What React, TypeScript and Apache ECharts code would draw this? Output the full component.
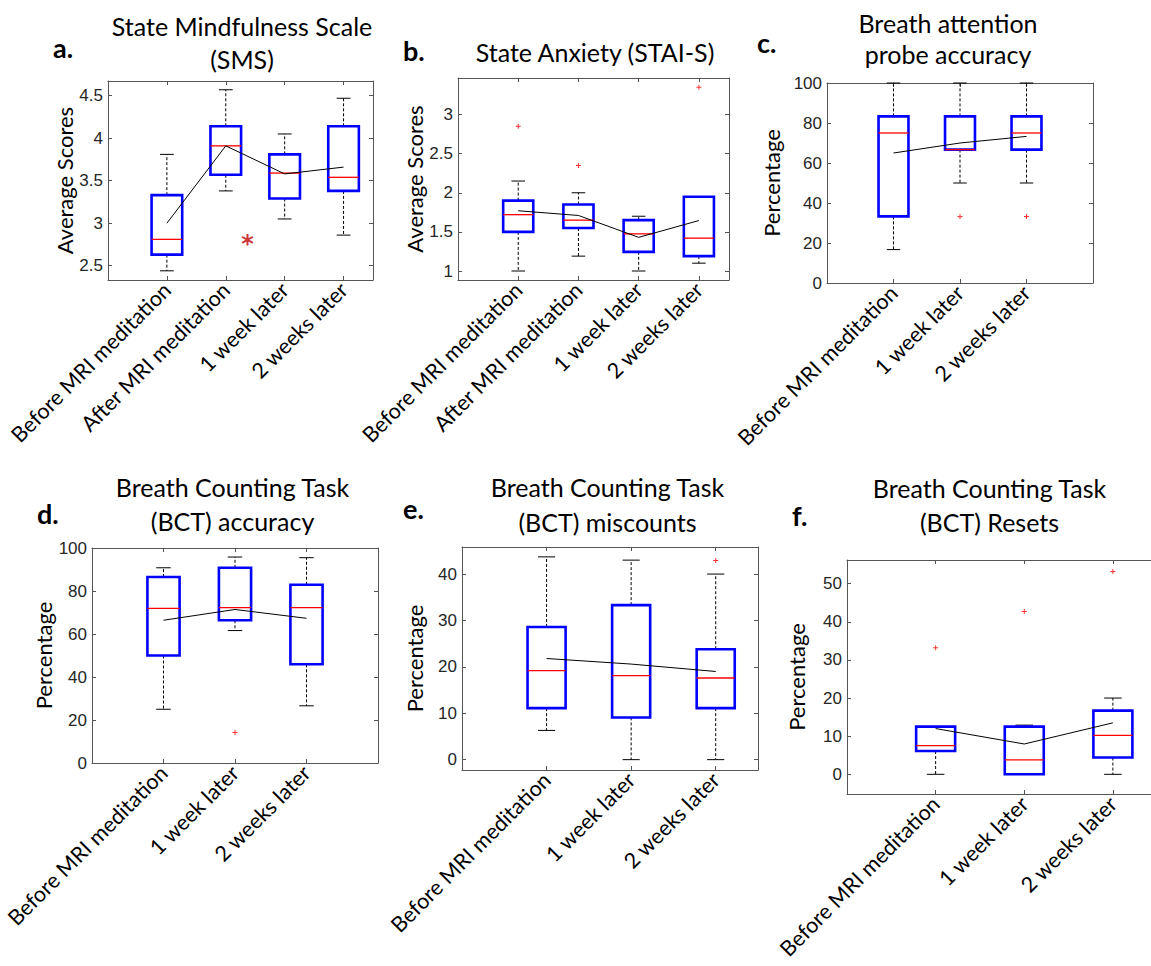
import React, { useEffect, useRef } from 'react';
import * as echarts from 'echarts';

// ---------- categories ----------
const cats4 = ['Before MRI meditation', 'After MRI meditation', '1 week later', '2 weeks later'];
const cats3 = ['Before MRI meditation', '1 week later', '2 weeks later'];

// ---------- box statistics: [lower whisker, Q1, median, Q3, upper whisker] ----------
const boxA = [[2.44, 2.63, 2.81, 3.33, 3.81], [3.38, 3.57, 3.91, 4.14, 4.57], [3.05, 3.29, 3.59, 3.81, 4.05], [2.86, 3.38, 3.54, 4.14, 4.47]];
const meanA = [3.0, 3.91, 3.58, 3.66];
const outA: number[][] = [];
const sigA = [[2.37, 2.82]];

const boxB = [[1.0, 1.5, 1.72, 1.9, 2.15], [1.19, 1.55, 1.65, 1.85, 2.0], [1.0, 1.245, 1.475, 1.65, 1.7], [1.1, 1.19, 1.42, 1.95, 1.95]];
const meanB = [1.77, 1.71, 1.43, 1.645];
const outB = [[1, 2.85], [2, 2.35], [4, 3.35]];

const boxC = [[16.7, 33.3, 75, 83.3, 100], [50, 66.7, 66.7, 83.3, 100], [50, 66.7, 75, 83.3, 100]];
const meanC = [65, 70, 73.3];
const outC = [[2, 33.3], [3, 33.3]];

const boxD = [[25, 50, 71.9, 86.5, 90.8], [61.6, 66.4, 72.3, 90.8, 95.8], [26.6, 45.9, 72.3, 82.9, 95.5]];
const meanD = [66.4, 71.4, 67.3];
const outD = [[2, 14.2]];

const boxE = [[6.3, 11.1, 19.2, 28.6, 43.7], [0, 9.1, 18.1, 33.3, 43.0], [0, 11.1, 17.6, 23.8, 40]];
const meanE = [21.8, 20.6, 19.0];
const outE = [[3, 42.9]];

const boxF = [[0, 6.1, 7.5, 12.5, 12.5], [0, 0, 3.8, 12.5, 12.9], [0, 4.4, 10.2, 16.7, 20]];
const meanF = [12.0, 7.95, 13.5];
const outF = [[1, 33.2], [2, 42.7], [3, 53.2]];

// ---------- tick labels ----------
const ticksA = [2.5, 3, 3.5, 4, 4.5];
const ticksB = [1, 1.5, 2, 2.5, 3];
const ticksC = [0, 20, 40, 60, 80, 100];
const ticksD = [0, 20, 40, 60, 80, 100];
const ticksE = [0, 10, 20, 30, 40];
const ticksF = [0, 10, 20, 30, 40, 50];

// ---------- titles ----------
const titlesA = ['State Mindfulness Scale', '(SMS)'];
const titlesB = ['State Anxiety (STAI-S)'];
const titlesC = ['Breath attention', 'probe accuracy'];
const titlesD = ['Breath Counting Task', '(BCT) accuracy'];
const titlesE = ['Breath Counting Task', '(BCT) miscounts'];
const titlesF = ['Breath Counting Task', '(BCT) Resets'];

const panels = [
  { cats: cats4, box: boxA, mean: meanA, out: outA, ticks: ticksA, titles: titlesA, letter: 'a.', yName: 'Average Scores',
    grid: { left: 108, top: 81, width: 265, height: 199 }, xMax: 4.5, yMin: 2.332, yMax: 4.673, bw: 0.52, nameGap: 33,
    titleX: 242, titleY: [26, 59.3], letterX: 53, letterY: 47.3, rightAxis: true },
  { cats: cats4, box: boxB, mean: meanB, out: outB, ticks: ticksB, titles: titlesB, letter: 'b.', yName: 'Average Scores',
    grid: { left: 458, top: 78, width: 271, height: 202 }, xMax: 4.5, yMin: 0.885, yMax: 3.467, bw: 0.5, nameGap: 33,
    titleX: 595, titleY: [52], letterX: 403, letterY: 50.6, rightAxis: true },
  { cats: cats3, box: boxC, mean: meanC, out: outC, ticks: ticksC, titles: titlesC, letter: 'c.', yName: 'Percentage',
    grid: { left: 827, top: 83, width: 266, height: 200 }, xMax: 4, yMin: 0, yMax: 100, bw: 0.45, nameGap: 45,
    titleX: 948, titleY: [22.7, 54.3], letterX: 757, letterY: 42.3, rightAxis: true },
  { cats: cats3, box: boxD, mean: meanD, out: outD, ticks: ticksD, titles: titlesD, letter: 'd.', yName: 'Percentage',
    grid: { left: 92, top: 548, width: 286, height: 215 }, xMax: 4, yMin: 0, yMax: 100, bw: 0.45, nameGap: 35,
    titleX: 232.5, titleY: [487, 521], letterX: 37, letterY: 513.6, rightAxis: true },
  { cats: cats3, box: boxE, mean: meanE, out: outE, ticks: ticksE, titles: titlesE, letter: 'e.', yName: 'Percentage',
    grid: { left: 462, top: 547, width: 296, height: 223 }, xMax: 3.5, yMin: -2.23, yMax: 45.83, bw: 0.45, nameGap: 37,
    titleX: 607.5, titleY: [487, 522], letterX: 403, letterY: 508.6, rightAxis: true },
  { cats: cats3, box: boxF, mean: meanF, out: outF, ticks: ticksF, titles: titlesF, letter: 'f.', yName: 'Percentage',
    grid: { left: 847, top: 560, width: 304, height: 234 }, xMax: 3.43, yMin: -5.16, yMax: 56.2, bw: 0.44, nameGap: 40,
    titleX: 989.5, titleY: [487.7, 521.7], letterX: 792, letterY: 515.6, rightAxis: false },
];

const AXIS_COLOR = '#555555';
const PLUS = 'path://M4,0h2v4h4v2h-4v4h-2v-4h-4v-2h4z';

function buildOption() {
  const grid: any[] = [];
  const xAxis: any[] = [];
  const yAxis: any[] = [];
  const series: any[] = [];
  const graphic: any[] = [];

  panels.forEach((p, i) => {
    grid.push({ ...p.grid });
    const catTicks = p.cats.map((_, j) => j + 1);
    const lineStyle = { color: AXIS_COLOR, width: 1 };
    xAxis.push({
      gridIndex: i, type: 'value', min: 0, max: p.xMax, position: 'bottom',
      axisLine: { show: true, onZero: false, lineStyle },
      axisTick: { show: true, inside: true, length: 4, customValues: catTicks, lineStyle },
      axisLabel: {
        show: true, customValues: catTicks, rotate: 45, margin: 6,
        formatter: (v: number) => p.cats[Math.round(v) - 1] || '',
        fontFamily: 'Lato', fontSize: 21.5, color: '#000',
      },
      splitLine: { show: false },
    });
    xAxis.push({
      gridIndex: i, type: 'value', min: 0, max: p.xMax, position: 'top',
      axisLine: { show: true, onZero: false, lineStyle },
      axisTick: { show: true, inside: true, length: 4, customValues: catTicks, lineStyle },
      axisLabel: { show: false },
      splitLine: { show: false },
    });
    yAxis.push({
      gridIndex: i, type: 'value', min: p.yMin, max: p.yMax, position: 'left',
      axisLine: { show: true, onZero: false, lineStyle },
      axisTick: { show: true, inside: true, length: 4, customValues: p.ticks, lineStyle },
      axisLabel: { show: true, customValues: p.ticks, margin: 5, fontFamily: 'Liberation Sans', fontSize: 17, color: '#262626' },
      splitLine: { show: false },
      name: p.yName, nameLocation: 'middle', nameGap: p.nameGap,
      nameTextStyle: { fontFamily: 'Lato', fontSize: 22, color: '#000' },
    });
    yAxis.push({
      gridIndex: i, type: 'value', min: p.yMin, max: p.yMax, position: 'right', show: p.rightAxis,
      axisLine: { show: true, onZero: false, lineStyle },
      axisTick: { show: true, inside: true, length: 4, customValues: p.ticks, lineStyle },
      axisLabel: { show: false },
      splitLine: { show: false },
    });

    const xi = i * 2;
    const yi = i * 2;
    const bw = p.bw;
    series.push({
      type: 'custom', xAxisIndex: xi, yAxisIndex: yi, z: 2,
      data: p.box.map((b, j) => [j + 1, ...b]),
      encode: { x: 0, y: [1, 2, 3, 4, 5] },
      renderItem: (_params: any, api: any) => {
        const x = api.value(0);
        const pLo = api.coord([x, api.value(1)]);
        const pQ1 = api.coord([x, api.value(2)]);
        const pMed = api.coord([x, api.value(3)]);
        const pQ3 = api.coord([x, api.value(4)]);
        const pHi = api.coord([x, api.value(5)]);
        const w = api.size([bw, 0])[0];
        const cx = pLo[0];
        const half = w / 2;
        const cap = (w * 0.45) / 2;
        const dash = { stroke: '#000', lineWidth: 1, lineDash: [3, 2] };
        const solid = { stroke: '#000', lineWidth: 1 };
        return {
          type: 'group',
          children: [
            { type: 'line', shape: { x1: cx, y1: pQ3[1], x2: cx, y2: pHi[1] }, style: dash },
            { type: 'line', shape: { x1: cx, y1: pQ1[1], x2: cx, y2: pLo[1] }, style: dash },
            { type: 'line', shape: { x1: cx - cap, y1: pHi[1], x2: cx + cap, y2: pHi[1] }, style: solid },
            { type: 'line', shape: { x1: cx - cap, y1: pLo[1], x2: cx + cap, y2: pLo[1] }, style: solid },
            { type: 'rect', shape: { x: cx - half, y: pQ3[1], width: w, height: pQ1[1] - pQ3[1] }, style: { fill: 'none', stroke: '#0000ff', lineWidth: 2.6 } },
            { type: 'line', shape: { x1: cx - half, y1: pMed[1], x2: cx + half, y2: pMed[1] }, style: { stroke: '#ff0000', lineWidth: 1.3 } },
          ],
        };
      },
    });
    series.push({
      type: 'line', xAxisIndex: xi, yAxisIndex: yi, z: 3,
      data: p.mean.map((m, j) => [j + 1, m]),
      symbol: 'none', lineStyle: { color: '#000', width: 1 }, silent: true,
    });
    if (p.out.length) {
      series.push({
        type: 'scatter', xAxisIndex: xi, yAxisIndex: yi, z: 4,
        data: p.out, symbol: PLUS, symbolSize: 5, itemStyle: { color: '#ff0000' }, silent: true,
      });
    }

    p.titles.forEach((t, k) => {
      graphic.push({
        type: 'text', x: p.titleX, y: p.titleY[k],
        style: { text: t, fontFamily: 'Lato', fontSize: 25, fill: '#000', align: 'center', verticalAlign: 'middle', textAlign: 'center', textVerticalAlign: 'middle' },
      });
    });
    graphic.push({
      type: 'text', x: p.letterX, y: p.letterY,
      style: { text: p.letter, fontFamily: 'Lato', fontWeight: 'bold', fontSize: 27, fill: '#000', align: 'left', verticalAlign: 'middle', textAlign: 'left', textVerticalAlign: 'middle' },
    });
  });

  // significance marker on panel a
  series.push({
    type: 'scatter', xAxisIndex: 0, yAxisIndex: 0, z: 5,
    data: sigA, symbolSize: 1, itemStyle: { color: 'rgba(0,0,0,0)' }, silent: true,
    label: { show: true, position: 'inside', formatter: '*', fontFamily: 'DejaVu Sans', fontWeight: 'bold', fontSize: 24, color: '#c00000', offset: [0, 5] },
  });

  return { animation: false, backgroundColor: '#ffffff', grid, xAxis, yAxis, series, graphic };
}

export default function App() {
  const ref = useRef<HTMLDivElement>(null);
  useEffect(() => {
    if (!ref.current) return;
    const chart = echarts.init(ref.current, null, { renderer: 'svg' });
    chart.setOption(buildOption() as any);
    return () => chart.dispose();
  }, []);
  return <div ref={ref} style={{ position: 'fixed', left: 0, top: 0, width: 1151, height: 966, background: '#fff' }} />;
}
